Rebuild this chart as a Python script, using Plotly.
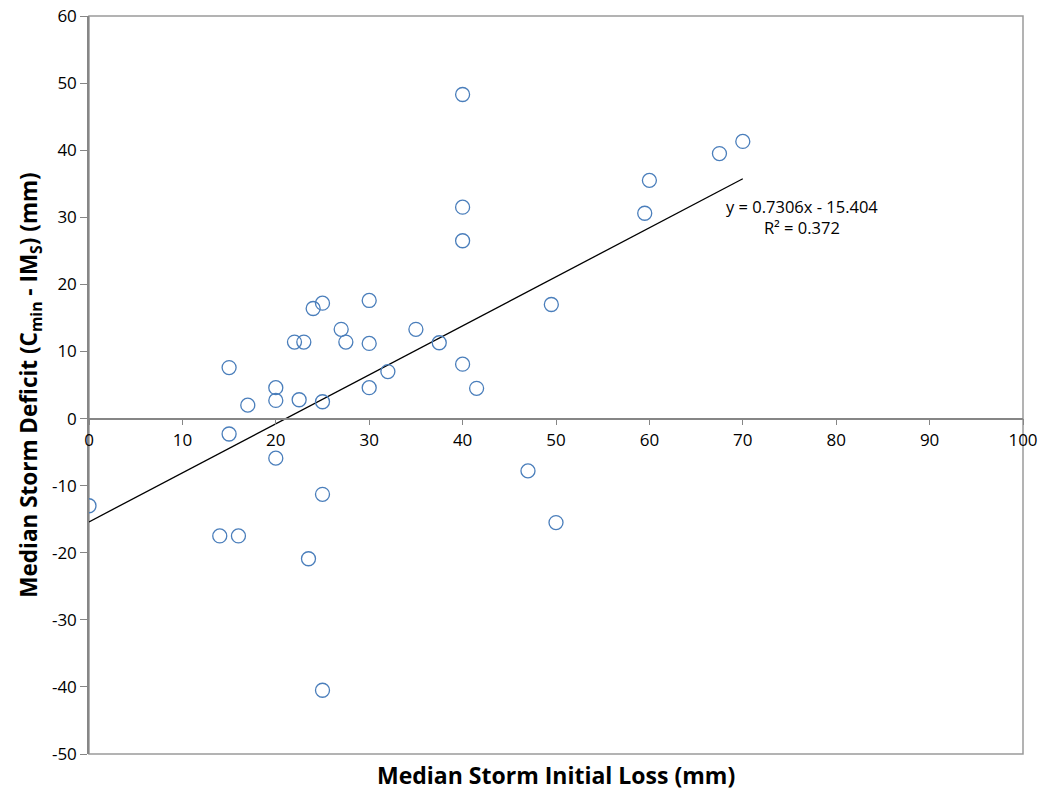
import plotly.graph_objects as go

# Median storm initial loss (mm) and median storm deficit (mm) per catchment
initial_loss = [0, 14, 15, 15, 16, 17, 20, 20, 20, 22, 22.5, 23, 23.5, 24, 25, 25, 25, 25,
                27, 27.5, 30, 30, 30, 32, 35, 37.5, 40, 40, 40, 40, 41.5, 47, 49.5, 50,
                59.5, 60, 67.5, 70]
storm_deficit = [-13, -17.5, 7.6, -2.3, -17.5, 2.0, 4.6, 2.7, -5.9, 11.4, 2.8, 11.4, -20.9,
                 16.4, 17.2, 2.5, -11.3, -40.5, 13.3, 11.4, 17.6, 11.2, 4.6, 7.0, 13.3, 11.3,
                 48.3, 31.5, 26.5, 8.1, 4.5, -7.8, 17.0, -15.5, 30.6, 35.5, 39.5, 41.3]

# Linear trend reported for the data
slope = 0.7306
intercept = -15.404
r_squared = 0.372

x_ticks = [0, 10, 20, 30, 40, 50, 60, 70, 80, 90, 100]
y_ticks = [-50, -40, -30, -20, -10, 0, 10, 20, 30, 40, 50, 60]

X_RANGE = [0, 100]
Y_RANGE = [-50, 60]

font_family = "Open Sans, Noto Sans, Liberation Sans, sans-serif"

trend_x = [min(initial_loss), max(initial_loss)]
trend_y = [slope * v + intercept for v in trend_x]

fig = go.Figure()

fig.add_trace(go.Scatter(
    x=trend_x, y=trend_y, mode="lines",
    line=dict(color="black", width=1.3),
    hoverinfo="skip", showlegend=False,
))

fig.add_trace(go.Scatter(
    x=initial_loss, y=storm_deficit, mode="markers",
    marker=dict(symbol="circle-open", size=14, color="#4a7ebb",
                line=dict(width=1.3, color="#4a7ebb")),
    showlegend=False,
))

# Plot-area frame
fig.add_shape(type="rect", xref="paper", yref="paper", x0=0, x1=1, y0=0, y1=1,
              line=dict(color="#9a9a9a", width=1.5), layer="below")

fig.add_annotation(
    x=76.3, y=30.1, xref="x", yref="y", showarrow=False, align="center",
    text=f"y = {slope}x - {abs(intercept)}<br>R² = {r_squared}",
    font=dict(family=font_family, size=16.5, color="black"),
    xanchor="center", yanchor="middle",
)

fig.add_annotation(
    x=0.5, y=-0.028, xref="paper", yref="paper", showarrow=False,
    text="<b>Median Storm Initial Loss (mm)</b>",
    font=dict(family=font_family, size=23, color="black"),
    xanchor="center", yanchor="middle",
)

fig.update_layout(
    width=1045, height=791,
    margin=dict(l=89, r=22, t=16, b=37),
    paper_bgcolor="white", plot_bgcolor="white",
    font=dict(family=font_family, size=17, color="black"),
    xaxis=dict(
        range=X_RANGE, tickvals=x_ticks, ticktext=[str(v) for v in x_ticks],
        showgrid=False, zeroline=False, automargin=False,
        showline=True, linecolor="#868686", linewidth=1.5,
        ticks="outside", ticklen=6, tickcolor="#868686", tickwidth=1.2,
        anchor="free", position=(0 - Y_RANGE[0]) / (Y_RANGE[1] - Y_RANGE[0]),
        tickfont=dict(family=font_family, size=17, color="black"),
    ),
    yaxis=dict(
        range=Y_RANGE, tickvals=y_ticks, ticktext=[str(v) for v in y_ticks],
        showgrid=False, zeroline=False, automargin=False,
        showline=True, linecolor="#868686", linewidth=1.5,
        ticks="outside", ticklen=7, tickcolor="#868686", tickwidth=1.2,
        tickfont=dict(family=font_family, size=17, color="black"),
        title=dict(
            text="<b>Median Storm Deficit (C<sub>min</sub> - IM<sub>S</sub>) (mm)</b>",
            font=dict(family=font_family, size=22.5, color="black"),
            standoff=8,
        ),
    ),
)

fig.write_html("out.html")
